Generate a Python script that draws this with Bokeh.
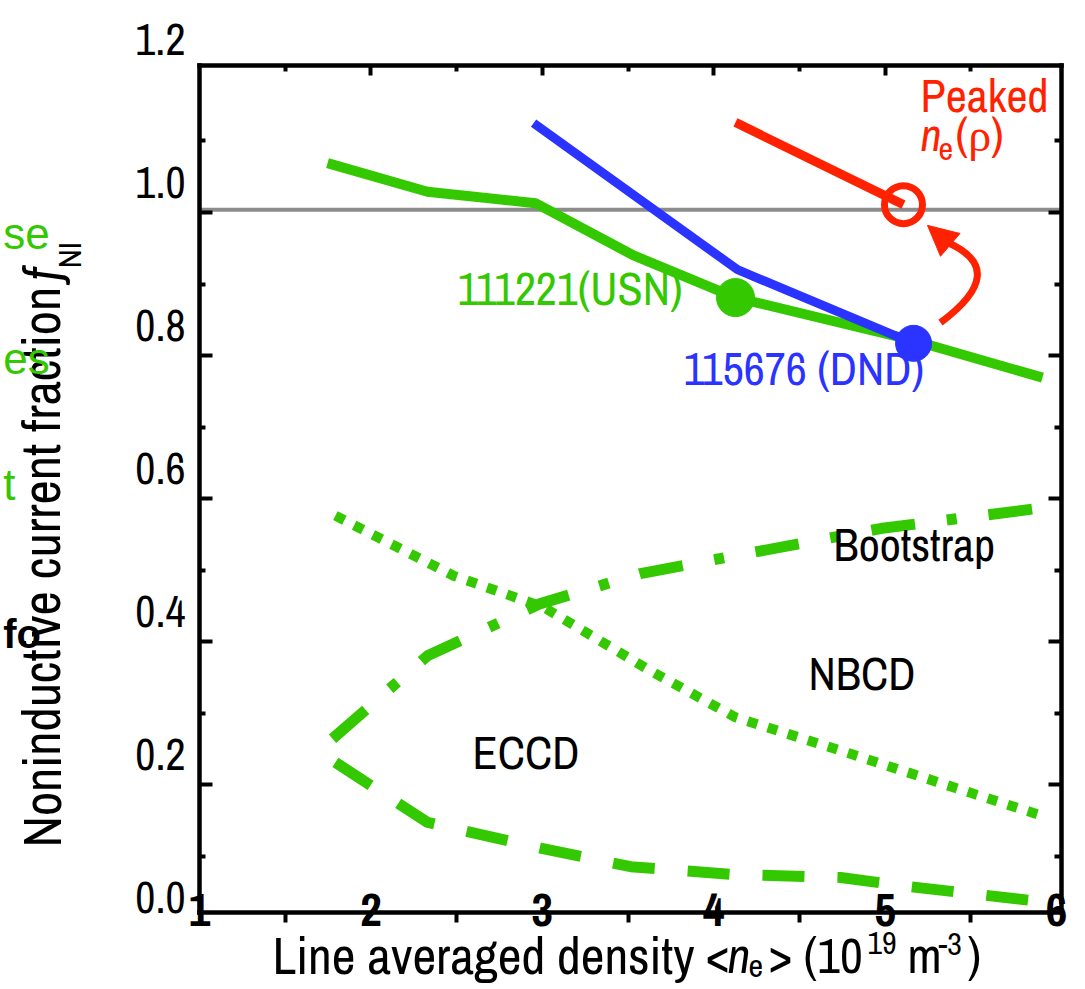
import subprocess
from bokeh.plotting import figure
from bokeh.models import (LinearAxis, FixedTicker, PrintfTickFormatter, Label,
                          Arrow, NormalHead, Range1d, Grid, CustomJSTickFormatter)
from bokeh.embed import file_html
from bokeh.resources import INLINE

# ---------------- data ----------------
x_ticks = [1, 2, 3, 4, 5, 6]
y_label_ticks = [0.0, 0.2, 0.4, 0.6, 0.8, 1.0]

usn_x = [1.747, 2.330, 2.960, 3.532, 4.127, 5.166, 5.918]
usn_y = [1.027, 0.987, 0.971, 0.898, 0.839, 0.779, 0.727]
usn_pt_x = [4.127]
usn_pt_y = [0.839]

dnd_x = [2.949, 4.139, 5.166]
dnd_y = [1.083, 0.878, 0.775]
dnd_pt_x = [5.166]
dnd_pt_y = [0.775]

peak_x = [4.127, 5.107]
peak_y = [1.084, 0.969]
peak_pt_x = [5.107]
peak_pt_y = [0.969]

boot_x = [1.776, 2.330, 2.989, 3.573, 4.127, 4.973, 5.918]
boot_y = [0.222, 0.338, 0.411, 0.453, 0.478, 0.516, 0.545]
nbcd_x = [1.793, 2.482, 3.007, 3.631, 4.127, 4.798, 5.516, 5.907]
nbcd_y = [0.534, 0.450, 0.406, 0.317, 0.252, 0.201, 0.145, 0.115]
eccd_x = [1.793, 2.330, 2.989, 3.515, 4.127, 4.740, 5.148, 5.918]
eccd_y = [0.189, 0.105, 0.069, 0.043, 0.032, 0.028, 0.015, -0.006]

ref_level = 0.962

# axis box limits
X_MIN, X_MAX = 1.0, 6.03
Y_MIN, Y_MAX = -0.021, 1.164

# ---------------- font choice: a narrow Helvetica-like face if present ----------------
try:
    _out = subprocess.run(["fc-list", ":", "family"], capture_output=True, text=True).stdout
except Exception:
    _out = ""
_fams = set(f.strip() for l in _out.splitlines() for f in l.split(",") if f.strip())
FONT = "Liberation Sans"
for cand in ["Liberation Sans Narrow", "Nimbus Sans Narrow", "Arial Narrow", "Archivo Narrow",
             "Roboto Condensed"]:
    if cand in _fams:
        FONT = cand
        break

GREEN = "#33c800"
BLUE = "#2a33ff"
RED = "#ff2200"
GRAY = "#8c8c8c"

p = figure(width=1085, height=989, x_range=Range1d(-0.161, 6.169), y_range=Range1d(-0.1287, 1.2545),
           output_backend="svg", toolbar_location=None,
           x_axis_location=None, y_axis_location=None, min_border=0,
           min_border_left=0, min_border_right=0, min_border_top=0, min_border_bottom=0)
for g in p.select(type=Grid):
    g.visible = False
p.outline_line_color = None
p.background_fill_color = "white"
p.border_fill_color = "white"

blank = CustomJSTickFormatter(code="return ''")
y_tick_major = [0.158, 0.358, 0.558, 0.758, 0.958]
y_tick_minor = [0.058, 0.258, 0.458, 0.658, 0.858, 1.058]
x_half = [1.5, 2.5, 3.5, 4.5, 5.5]

box = dict(axis_line_color="black", axis_line_width=4.5, axis_line_cap="square")

la = LinearAxis(fixed_location=X_MIN, bounds=(Y_MIN, Y_MAX),
                ticker=FixedTicker(ticks=y_label_ticks, minor_ticks=[]),
                formatter=PrintfTickFormatter(format="%.1f"),
                major_tick_line_color=None, minor_tick_line_color=None,
                major_tick_in=0, major_tick_out=0, minor_tick_in=0, minor_tick_out=0,
                major_label_standoff=14,
                major_label_text_font=FONT, major_label_text_font_size="44px",
                major_label_text_color="black", **box)
lt = LinearAxis(fixed_location=X_MIN, bounds=(Y_MIN, Y_MAX),
                ticker=FixedTicker(ticks=y_tick_major, minor_ticks=y_tick_minor), formatter=blank,
                major_tick_in=13, major_tick_out=0, minor_tick_in=6, minor_tick_out=0,
                major_tick_line_width=4, minor_tick_line_width=4, axis_line_color=None)
p.add_layout(la, "left")
p.add_layout(lt, "left")

rt = LinearAxis(fixed_location=X_MAX, bounds=(Y_MIN, Y_MAX),
                ticker=FixedTicker(ticks=y_tick_major, minor_ticks=y_tick_minor), formatter=blank,
                major_tick_in=13, major_tick_out=0, minor_tick_in=7, minor_tick_out=0,
                major_tick_line_width=4, minor_tick_line_width=4, **box)
p.add_layout(rt, "right")

tt = LinearAxis(fixed_location=Y_MAX, bounds=(X_MIN, X_MAX),
                ticker=FixedTicker(ticks=[2, 3, 4, 5], minor_ticks=x_half),
                formatter=blank, major_tick_in=10, major_tick_out=0, minor_tick_in=6, minor_tick_out=0,
                major_tick_line_width=4, minor_tick_line_width=4, **box)
p.add_layout(tt, "above")

bx = LinearAxis(fixed_location=Y_MIN, bounds=(X_MIN, X_MAX),
                ticker=FixedTicker(ticks=x_ticks, minor_ticks=x_half),
                major_tick_line_color=None, major_tick_in=0, major_tick_out=0,
                minor_tick_in=0, minor_tick_out=10, minor_tick_line_width=4,
                major_label_standoff=-28,
                major_label_text_font=FONT, major_label_text_font_size="47px",
                major_label_text_font_style="bold", major_label_text_color="black", **box)
p.add_layout(bx, "below")

# reference level
p.segment(x0=[X_MIN], x1=[X_MAX], y0=[ref_level], y1=[ref_level], line_color=GRAY, line_width=4)

# component curves
p.line(eccd_x, eccd_y, line_color=GREEN, line_width=11, line_dash="42 33", line_cap="butt")
p.line(boot_x, boot_y, line_color=GREEN, line_width=11, line_dash="44 32 10 32", line_cap="butt")
p.line(nbcd_x, nbcd_y, line_color=GREEN, line_width=10, line_dash="10 11", line_cap="butt")

# totals
p.line(usn_x, usn_y, line_color=GREEN, line_width=10)
p.line(dnd_x, dnd_y, line_color=BLUE, line_width=9)
p.line(peak_x, peak_y, line_color=RED, line_width=9)
p.scatter(usn_pt_x, usn_pt_y, marker="circle", size=38, fill_color=GREEN, line_color=GREEN)
p.scatter(dnd_pt_x, dnd_pt_y, marker="circle", size=36, fill_color=BLUE, line_color=BLUE)
p.scatter(peak_pt_x, peak_pt_y, marker="circle", size=38, fill_color=None, line_color=RED,
          line_width=7)

# curved arrow
p.quadratic(x0=[5.323], y0=[0.804], x1=[5.364], y1=[0.916], cx=[5.732], cy=[0.877],
            line_color=RED, line_width=7)
p.add_layout(Arrow(end=NormalHead(size=30, fill_color=RED, line_color=RED, line_width=1),
                   x_start=5.364, y_start=0.916, x_end=5.247, y_end=0.940,
                   line_color=RED, line_width=7))


def txt(text, x, y, size, color="black", style="normal", align="left", baseline="middle",
        angle=0.0, font=None):
    p.add_layout(Label(x=x, y=y, text=text, text_font=font or FONT, text_font_size=size,
                       text_color=color, text_font_style=style, text_align=align,
                       text_baseline=baseline, angle=angle))


# in-plot annotations
txt("111221(USN)", 2.505, 0.853, "46px", GREEN)
txt("115676 (DND)", 3.824, 0.741, "46px", BLUE)
txt("Peaked", 5.207, 1.123, "46px", RED)
txt("n", 5.207, 1.068, "46px", RED, style="italic")
txt("e", 5.312, 1.047, "32px", RED)
txt("(\u03c1)", 5.411, 1.068, "46px", RED)
txt("Bootstrap", 4.699, 0.494, "46px")
txt("NBCD", 4.553, 0.314, "46px")
txt("ECCD", 2.593, 0.2035, "46px")

# top tick label sitting above the box
txt("1.2", 0.918, 1.2, "44px", align="right")

# x axis title
txt("Line averaged density", 1.426, -0.080, "52px")
txt("<", 3.952, -0.080, "50px")
txt("n", 4.081, -0.080, "50px", style="italic")
txt("e", 4.203, -0.096, "32px")
txt(">", 4.320, -0.080, "50px")
txt("(10", 4.524, -0.080, "50px")
txt("19", 4.897, -0.064, "32px")
txt("m", 5.131, -0.080, "50px")
txt("-3", 5.312, -0.065, "32px")
txt(")", 5.481, -0.080, "50px")

# y axis title (rotated)
txt("Noninductive current fraction", 0.0782, 0.070, "53px", angle=1.5708)
txt("f", 0.0782, 0.863, "53px", style="italic", angle=1.5708)
txt("NI", 0.2415, 0.880, "32px", angle=1.5708)

# stray fragments visible at the left edge of the reference
txt("se", -0.145, 0.929, "44px", GREEN, font="Liberation Sans")
txt("es", -0.145, 0.754, "44px", GREEN, font="Liberation Sans")
txt("t", -0.145, 0.578, "44px", GREEN, font="Liberation Sans")
txt("fo", -0.145, 0.369, "40px", style="bold", font="Liberation Sans")

open("out.html", "w").write(file_html(p, INLINE))
